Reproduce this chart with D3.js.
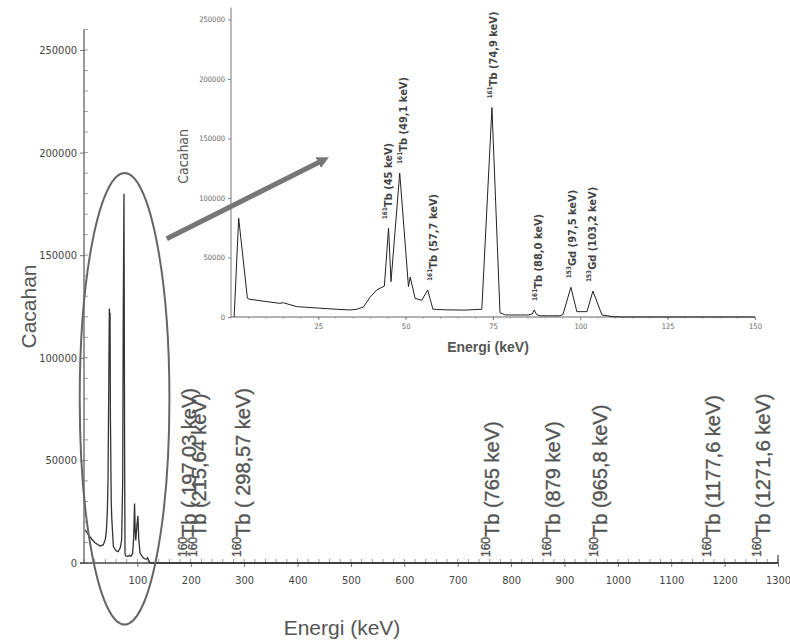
<!DOCTYPE html>
<html lang="en">
<head>
    <meta charset="UTF-8">
    <title>Spektrum Tb</title>
    <script src="https://d3js.org/d3.v7.min.js"></script>
    <style>
        body { margin: 0; background: #fff; }
        .narrow { font-family: "Liberation Sans Narrow", "DejaVu Sans Condensed", "Liberation Sans", Arial, sans-serif; }
    </style>
</head>
<body>
    <script>
        // main spectrum (keV, counts)
        const mainEnergy = [2, 11, 20, 30, 36, 40, 42, 43.7, 45, 46.5, 47.5, 48.2, 48.8, 49.5, 51, 52, 55, 60, 64, 68, 70.5, 72.5, 73.5, 74.9, 76, 76.8, 78, 82, 85, 88, 91, 93, 94.7, 96, 97, 99, 101, 102.5, 105, 110, 114, 117, 119, 123.6, 1300];
        const mainCounts = [16100, 12800, 10000, 8300, 8800, 11500, 16000, 25000, 40000, 90000, 124000, 119000, 122000, 70000, 30000, 22000, 8000, 6000, 5500, 7500, 11200, 40000, 120000, 180000, 60000, 4800, 3500, 3200, 3800, 3300, 4600, 12000, 29000, 15000, 11000, 18000, 23000, 12000, 4800, 2800, 2000, 1900, 2600, 0, 0];

        // inset spectrum, 0-150 keV
        const insetEnergy = [0.9, 2.2, 4.7, 5.4, 10, 14, 15, 18.8, 25, 30.3, 34, 36, 37.9, 39.8, 41.7, 43.9, 45.1, 45.8, 48.3, 50.8, 51.3, 52.7, 54.6, 56.3, 57.8, 62, 67, 71.8, 74.7, 77, 78.5, 85, 86.2, 86.8, 87.5, 88.5, 94, 95, 97.3, 99, 101.9, 103.6, 106.2, 109.4, 112, 150];
        const insetCounts = [0, 83000, 15700, 14900, 13000, 11500, 12000, 8700, 7500, 6500, 5900, 6500, 8400, 16600, 22700, 26000, 74500, 29700, 121000, 25500, 33600, 15700, 14000, 22700, 6500, 6000, 5800, 6500, 176000, 3600, 1700, 1700, 2500, 5900, 2000, 1000, 1000, 2000, 25000, 4500, 4500, 21800, 1700, 300, 0, 0];

        // tick labels
        const mainYTicks = [0, 50000, 100000, 150000, 200000, 250000];
        const mainXTicks = [100, 200, 300, 400, 500, 600, 700, 800, 900, 1000, 1100, 1200, 1300];
        const insetYTicks = [0, 50000, 100000, 150000, 200000, 250000];
        const insetXTicks = [25, 50, 75, 100, 125, 150];

        // 160Tb lines on the main chart
        const tbEnergy = [197.03, 215.64, 298.57, 765, 879, 965.8, 1177.6, 1271.6];
        const tbText = ["( 197,03 keV)", "(215,64 keV)", "( 298,57 keV)", "(765 keV)", "(879 keV)", "(965,8 keV)", "(1177,6 keV)", "(1271,6 keV)"];

        // peak labels on the inset
        const peakEnergy = [45, 49.1, 57.7, 74.9, 88.0, 97.5, 103.2];
        const peakHeight = [74500, 121000, 22700, 176000, 5900, 25000, 21800];
        const peakIso = ["161", "161", "161", "161", "161", "153", "153"];
        const peakEl = ["Tb", "Tb", "Tb", "Tb", "Tb", "Gd", "Gd"];
        const peakText = [" (45 keV)", " (49,1 keV)", " (57,7 keV)", " (74,9 keV)", " (88,0 keV)", " (97,5 keV)", " (103,2 keV)"];

        const width = 790, height = 642;
        const svg = d3.select("body").append("svg")
            .attr("width", width)
            .attr("height", height);

        // ---------- main chart ----------
        const x = d3.scaleLinear().domain([0, 1300]).range([84, 778]);
        const y = d3.scaleLinear().domain([0, 250000]).range([563, 50]);

        const gMain = svg.append("g");

        // minor ticks
        gMain.selectAll(".ymin").data(d3.range(0, 260001, 10000))
            .enter().append("line")
            .attr("x1", x(0)).attr("x2", x(0) + 4)
            .attr("y1", d => y(d)).attr("y2", d => y(d))
            .attr("stroke", "#888").attr("stroke-width", 0.8);
        gMain.selectAll(".xmin").data(d3.range(0, 1301, 20))
            .enter().append("line")
            .attr("x1", d => x(d)).attr("x2", d => x(d))
            .attr("y1", y(0)).attr("y2", y(0) - 4)
            .attr("stroke", "#888").attr("stroke-width", 0.8);

        const yAxis = gMain.append("g")
            .attr("transform", `translate(${x(0)},0)`)
            .call(d3.axisLeft(y).tickValues(mainYTicks).tickSize(4).tickFormat(d3.format("d")));
        const xAxis = gMain.append("g")
            .attr("transform", `translate(0,${y(0)})`)
            .call(d3.axisBottom(x).tickValues(mainXTicks).tickSize(4).tickPadding(9).tickFormat(d3.format("d")));
        [yAxis, xAxis].forEach(a => {
            a.select(".domain").remove();
            a.selectAll("line").attr("stroke", "#777");
            a.selectAll("text").attr("class", "narrow").attr("font-size", 11).attr("fill", "#444");
        });
        gMain.append("line")
            .attr("x1", x(0)).attr("x2", x(0)).attr("y1", y(0)).attr("y2", y(260000))
            .attr("stroke", "#555").attr("stroke-width", 1.2);
        gMain.append("line")
            .attr("x1", x(0) - 4).attr("x2", x(1300)).attr("y1", y(0)).attr("y2", y(0))
            .attr("stroke", "#444").attr("stroke-width", 1.4);
        gMain.append("line")
            .attr("x1", x(1300)).attr("x2", x(1300)).attr("y1", y(0)).attr("y2", y(0) - 8)
            .attr("stroke", "#444").attr("stroke-width", 1.2);

        const mainLine = d3.line().x(d => x(d[0])).y(d => y(d[1]));
        gMain.append("path")
            .datum(d3.zip(mainEnergy, mainCounts))
            .attr("d", mainLine)
            .attr("fill", "none").attr("stroke", "#333").attr("stroke-width", 1.3);

        gMain.append("text")
            .attr("x", 342).attr("y", 635)
            .attr("text-anchor", "middle")
            .attr("font-family", "Liberation Sans, Arial, sans-serif")
            .attr("font-size", 21).attr("fill", "#555")
            .text("Energi (keV)");
        gMain.append("text")
            .attr("transform", `translate(28,${y(125000)}) rotate(-90)`)
            .attr("text-anchor", "middle").attr("dominant-baseline", "central")
            .attr("font-family", "Liberation Sans, Arial, sans-serif")
            .attr("font-size", 21).attr("fill", "#555")
            .text("Cacahan");

        const tb = gMain.selectAll(".tb").data(tbEnergy)
            .enter().append("text")
            .attr("transform", d => `translate(${x(d)},${y(0) - 6}) rotate(-90)`)
            .attr("dominant-baseline", "central")
            .attr("font-family", "Liberation Sans, Arial, sans-serif")
            .attr("fill", "#555").attr("stroke", "#555").attr("stroke-width", 0.35);
        tb.append("tspan").attr("font-size", 12).attr("dy", -6).text("160");
        tb.append("tspan").attr("font-size", 20).attr("dy", 6).text((d, i) => "Tb " + tbText[i]);

        // ellipse around the low-energy part
        const ex0 = -8, ex1 = 160, ey0 = -30000, ey1 = 190000;
        gMain.append("ellipse")
            .attr("cx", (x(ex0) + x(ex1)) / 2).attr("cy", (y(ey0) + y(ey1)) / 2)
            .attr("rx", (x(ex1) - x(ex0)) / 2).attr("ry", (y(ey0) - y(ey1)) / 2)
            .attr("fill", "none").attr("stroke", "#666").attr("stroke-width", 2);

        // ---------- inset ----------
        const xi = d3.scaleLinear().domain([0, 150]).range([231, 755]);
        const yi = d3.scaleLinear().domain([0, 250000]).range([317, 19.5]);
        const gIn = svg.append("g");

        gIn.selectAll(".ximin").data(d3.range(0, 151, 5))
            .enter().append("line")
            .attr("x1", d => xi(d)).attr("x2", d => xi(d))
            .attr("y1", yi(0)).attr("y2", yi(0) + 2)
            .attr("stroke", "#999").attr("stroke-width", 0.6);

        const yiAxis = gIn.append("g")
            .attr("transform", `translate(${xi(0)},0)`)
            .call(d3.axisLeft(yi).tickValues(insetYTicks).tickSize(3).tickPadding(3).tickFormat(d3.format("d")));
        const xiAxis = gIn.append("g")
            .attr("transform", `translate(0,${yi(0)})`)
            .call(d3.axisBottom(xi).tickValues(insetXTicks).tickSize(3).tickPadding(4).tickFormat(d3.format("d")));
        [yiAxis, xiAxis].forEach(a => {
            a.select(".domain").remove();
            a.selectAll("line").attr("stroke", "#888");
            a.selectAll("text").attr("class", "narrow").attr("font-size", 7.5).attr("fill", "#666");
        });
        gIn.append("line")
            .attr("x1", xi(0)).attr("x2", xi(0)).attr("y1", yi(0)).attr("y2", yi(260000))
            .attr("stroke", "#777").attr("stroke-width", 1);
        gIn.append("line")
            .attr("x1", xi(0)).attr("x2", xi(150)).attr("y1", yi(0)).attr("y2", yi(0))
            .attr("stroke", "#666").attr("stroke-width", 1);

        const inLine = d3.line().x(d => xi(d[0])).y(d => yi(d[1]));
        gIn.append("path")
            .datum(d3.zip(insetEnergy, insetCounts))
            .attr("d", inLine)
            .attr("fill", "none").attr("stroke", "#222").attr("stroke-width", 1);

        gIn.append("text")
            .attr("x", 488).attr("y", 352)
            .attr("text-anchor", "middle")
            .attr("font-family", "Liberation Sans, Arial, sans-serif")
            .attr("font-weight", "bold")
            .attr("font-size", 14).attr("fill", "#555")
            .text("Energi (keV)");
        gIn.append("text")
            .attr("transform", `translate(183,${yi(135000)}) rotate(-90)`)
            .attr("text-anchor", "middle").attr("dominant-baseline", "central")
            .attr("class", "narrow")
            .attr("font-size", 14).attr("fill", "#555")
            .text("Cacahan");

        const pk = gIn.selectAll(".pk").data(peakEnergy)
            .enter().append("text")
            .attr("transform", (d, i) => `translate(${xi(d)},${yi(peakHeight[i]) - 9}) rotate(-90)`)
            .attr("dominant-baseline", "central")
            .attr("class", "narrow")
            .attr("font-weight", "bold")
            .attr("fill", "#444");
        pk.append("tspan").attr("font-size", 6.5).attr("dy", -3).text((d, i) => peakIso[i]);
        pk.append("tspan").attr("font-size", 11).attr("dy", 3).text((d, i) => peakEl[i] + peakText[i]);

        // arrow from the ellipse to the inset
        svg.append("defs").append("marker")
            .attr("id", "head").attr("viewBox", "0 0 10 10")
            .attr("refX", 5).attr("refY", 5)
            .attr("markerWidth", 2.4).attr("markerHeight", 2.4)
            .attr("orient", "auto")
            .append("path").attr("d", "M0,0 L10,5 L0,10 z").attr("fill", "#777");
        svg.append("line")
            .attr("x1", x(155)).attr("y1", y(158000))
            .attr("x2", xi(26.5)).attr("y2", yi(132000))
            .attr("stroke", "#777").attr("stroke-width", 5)
            .attr("marker-end", "url(#head)");
    </script>
</body>
</html>
